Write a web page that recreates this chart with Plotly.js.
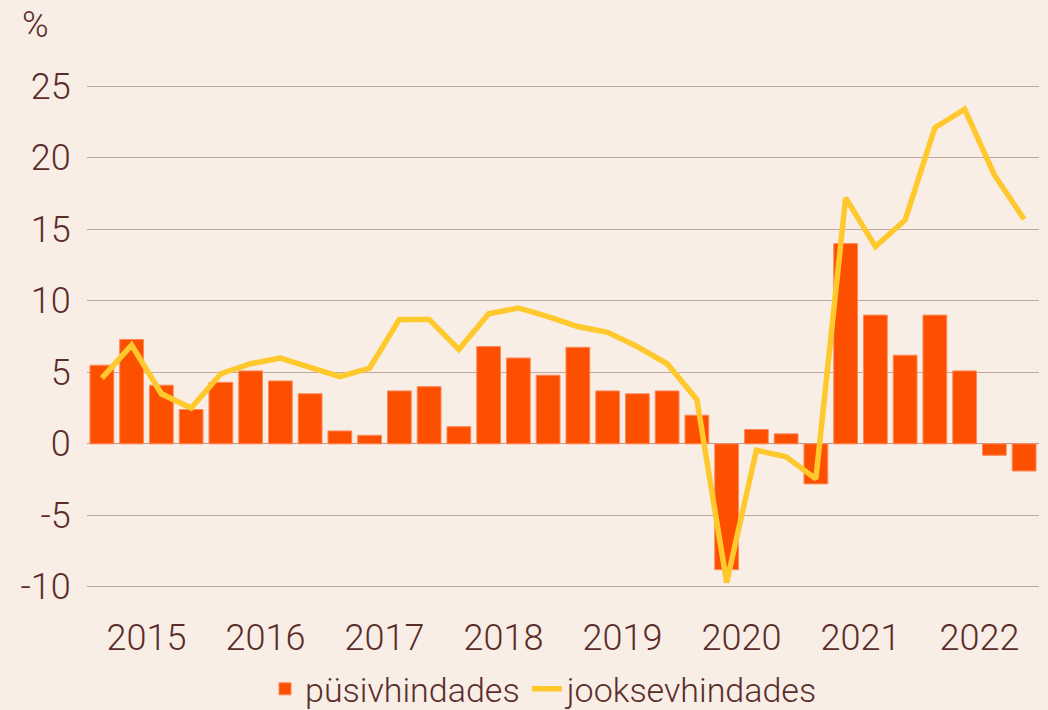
<!DOCTYPE html>
<html>
<head>
<meta charset="utf-8">
<script src="https://cdn.plot.ly/plotly-3.0.1.min.js"></script>
<style>html,body{margin:0;padding:0;background:#f8eee5;}#chart{width:1048px;height:710px;}</style>
</head>
<body>
<div id="chart"></div>
<script>
// Quarters 2015 Q1 .. 2022 Q4
const quarters = [
  "2015 I","2015 II","2015 III","2015 IV",
  "2016 I","2016 II","2016 III","2016 IV",
  "2017 I","2017 II","2017 III","2017 IV",
  "2018 I","2018 II","2018 III","2018 IV",
  "2019 I","2019 II","2019 III","2019 IV",
  "2020 I","2020 II","2020 III","2020 IV",
  "2021 I","2021 II","2021 III","2021 IV",
  "2022 I","2022 II","2022 III","2022 IV"
];
const years = ["2015","2016","2017","2018","2019","2020","2021","2022"];
// püsivhindades (constant prices), %
const pusivhindades = [
  5.5, 7.3, 4.1, 2.4,
  4.3, 5.1, 4.4, 3.5,
  0.9, 0.6, 3.7, 4.0,
  1.2, 6.8, 6.0, 4.8,
  6.75, 3.7, 3.5, 3.7,
  2.0, -8.8, 1.0, 0.7,
  -2.8, 14.0, 9.0, 6.2,
  9.0, 5.1, -0.8, -1.9
];
// jooksevhindades (current prices), %
const jooksevhindades = [
  4.6, 6.9, 3.5, 2.5,
  4.9, 5.6, 6.0, 5.4,
  4.7, 5.3, 8.7, 8.7,
  6.6, 9.1, 9.5, 8.9,
  8.2, 7.8, 6.8, 5.6,
  3.1, -9.7, -0.45, -0.9,
  -2.45, 17.2, 13.8, 15.65,
  22.1, 23.4, 18.8, 15.7
];
const yTicks = [-10, -5, 0, 5, 10, 15, 20, 25];
const yTickText = ["-10", "-5", "0", "5", "10", "15", "20", "25"];

const xIdx = quarters.map((q, i) => i);
const yearTickVals = years.map((y, i) => i * 4 + 1.5);

const textColor = "#5a2d2a";
const font = {family: "Roboto, 'Open Sans', sans-serif", size: 36, color: textColor, weight: 300};
const legendFont = {family: "Roboto, 'Open Sans', sans-serif", size: 34, color: textColor, weight: 300};

const traces = [
  {
    type: "bar",
    name: "püsivhindades",
    legend: "legend",
    x: xIdx,
    y: pusivhindades,
    hovertext: quarters,
    hoverinfo: "text+y",
    textposition: "none",
    marker: {color: "#fc5000", line: {color: "#fd8a5c", width: 1}}
  },
  {
    type: "scatter",
    mode: "lines",
    name: "jooksevhindades",
    legend: "legend2",
    x: xIdx,
    y: jooksevhindades,
    hovertext: quarters,
    hoverinfo: "text+y",
    line: {color: "#ffc82c", width: 5.5}
  }
];

const legendBase = {
  orientation: "h",
  xanchor: "left",
  y: -0.238,
  yanchor: "bottom",
  font: legendFont,
  bgcolor: "rgba(0,0,0,0)"
};

const layout = {
  width: 1048,
  height: 710,
  paper_bgcolor: "#f8eee5",
  plot_bgcolor: "#f8eee5",
  font: font,
  margin: {l: 87, r: 9, t: 72, b: 116, pad: 0, autoexpand: false},
  bargap: 0.2,
  showlegend: true,
  legend: Object.assign({}, legendBase, {x: 0.187}),
  legend2: Object.assign({}, legendBase, {x: 0.462}),
  xaxis: {
    range: [-0.5, 31.5],
    tickmode: "array",
    tickvals: yearTickVals,
    ticktext: years,
    ticks: "outside",
    ticklen: 12,
    tickcolor: "rgba(0,0,0,0)",
    showgrid: false,
    zeroline: false,
    showline: false,
    tickfont: font,
    fixedrange: true
  },
  yaxis: {
    range: [-10.5, 26],
    tickmode: "array",
    tickvals: yTicks,
    ticktext: yTickText,
    ticks: "outside",
    ticklen: 8,
    tickcolor: "rgba(0,0,0,0)",
    showgrid: true,
    gridcolor: "#c0a8a1",
    gridwidth: 1,
    zeroline: true,
    zerolinecolor: "#b89c96",
    zerolinewidth: 1,
    showline: false,
    tickfont: font,
    fixedrange: true
  },
  annotations: [
    {
      text: "%",
      xref: "paper", yref: "paper",
      x: -0.0704, xanchor: "left",
      y: 1.09, yanchor: "middle",
      showarrow: false,
      font: font
    }
  ]
};

Plotly.newPlot("chart", traces, layout, {displayModeBar: false, staticPlot: true});
</script>
</body>
</html>
